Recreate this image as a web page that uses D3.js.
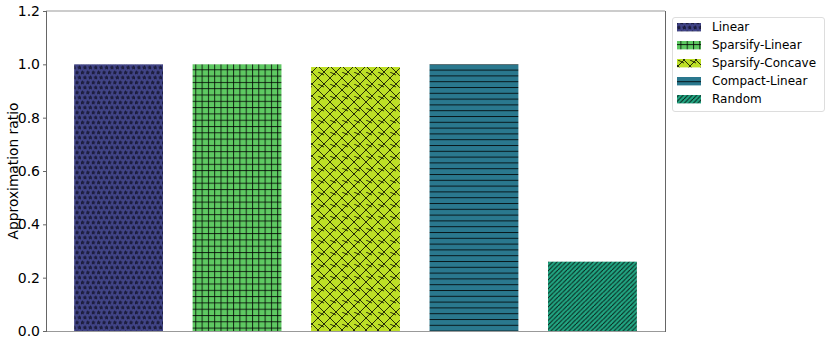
<!DOCTYPE html>
<html><head><meta charset="utf-8">
<script src="https://cdn.jsdelivr.net/npm/d3@7"></script>
<style>body{margin:0;background:#fff}svg{display:block;font-family:"DejaVu Sans",sans-serif}</style>
</head><body><svg id="c" width="830" height="346"></svg>
<script>
const categories = ["Linear","Sparsify-Linear","Sparsify-Concave","Compact-Linear","Random"];
const values = [1.0, 1.0, 0.99, 1.0, 0.26];
const colors = ["#414487","#5ec962","#bddf26","#2a788e","#22a884"];
const hatches = ["star","plus","cross","hline","diag"];
const yTicks = [0, 0.2, 0.4, 0.6, 0.8, 1.0, 1.2];
const yLabel = "Approximation ratio";

const svg = d3.select("#c");
const L = 46, R = 665, T = 11, B = 331;
const x = d3.scaleLinear().domain([-0.6125, 4.6125]).range([L, R]);
const y = d3.scaleLinear().domain([0, 1.2]).range([B, T]);
const defs = svg.append("defs");
const hc = "rgba(0,0,0,0.8)";

function makePattern(id, kind, color) {
  let w, h;
  if (kind === "star") { w = 5.4; h = 10; }
  else if (kind === "plus") { w = 6.3; h = 6.3; }
  else if (kind === "cross") { w = 12; h = 12; }
  else if (kind === "hline") { w = 10; h = 5.8; }
  else { w = 4.5; h = 4.5; }
  const p = defs.append("pattern").attr("id", id).attr("patternUnits", "userSpaceOnUse")
    .attr("width", w).attr("height", h);
  p.append("rect").attr("width", w).attr("height", h).attr("fill", color);
  if (kind === "star") {
    const star = (cx, cy, r) => {
      const pts = [];
      for (let k = 0; k < 10; k++) {
        const a = -Math.PI / 2 + k * Math.PI / 5;
        const rr = k % 2 ? r * 0.45 : r;
        pts.push([cx + rr * Math.cos(a), cy + rr * Math.sin(a)]);
      }
      p.append("polygon").attr("points", pts.map(d => d.join(",")).join(" "))
        .attr("fill", "rgba(20,20,50,0.75)").attr("stroke", "rgba(0,0,0,0.6)").attr("stroke-width", 0.5);
    };
    star(1.35, 2.6, 2.0); star(4.05, 7.6, 2.0);
  } else if (kind === "plus") {
    p.append("line").attr("x1", 0.5).attr("x2", 0.5).attr("y1", 0).attr("y2", h).attr("stroke", hc).attr("stroke-width", 1);
    p.append("line").attr("y1", 0.5).attr("y2", 0.5).attr("x1", 0).attr("x2", w).attr("stroke", hc).attr("stroke-width", 1);
  } else if (kind === "cross") {
    p.append("path").attr("d", `M0,0L${w},${h}M0,${h}L${w},0M${-w/2},${h/2}L0,${h}M${w/2},0L${w+w/2},${h/2}`).attr("stroke", hc).attr("stroke-width", 1).attr("fill", "none");
    p.append("path").attr("d", `M${-w/2},${h/2}L0,0M${w},${h}L${w+w/2},${h/2}`).attr("stroke", hc).attr("stroke-width", 1).attr("fill","none");
  } else if (kind === "hline") {
    p.append("line").attr("y1", 0.5).attr("y2", 0.5).attr("x1", 0).attr("x2", w).attr("stroke", hc).attr("stroke-width", 1);
  } else {
    p.append("path").attr("d", `M0,${h}L${w},0M${-w},${h}L0,0M${w},${h}L${2*w},0`).attr("stroke", hc).attr("stroke-width", 1.1);
  }
}
categories.forEach((c, i) => makePattern("h" + i, hatches[i], colors[i]));

// bars
svg.append("g").selectAll("rect").data(values).join("rect")
  .attr("x", (d, i) => x(i - 0.375)).attr("width", (d, i) => x(i + 0.375) - x(i - 0.375))
  .attr("y", d => y(d)).attr("height", d => y(0) - y(d))
  .attr("fill", (d, i) => `url(#h${i})`);

// spines
svg.append("line").attr("x1", L).attr("x2", R).attr("y1", T).attr("y2", T).attr("stroke", "#999").attr("stroke-width", 1.2);
svg.append("line").attr("x1", L).attr("x2", R).attr("y1", B + 0.5).attr("y2", B + 0.5).attr("stroke", "#999").attr("stroke-width", 1.2);
svg.append("line").attr("x1", R + 0.5).attr("x2", R + 0.5).attr("y1", T).attr("y2", B + 1).attr("stroke", "#666").attr("stroke-width", 1);

// y axis
const ya = svg.append("g").attr("transform", `translate(${L + 0.5},0)`)
  .call(d3.axisLeft(y).tickValues(yTicks).tickFormat(d3.format(".1f")).tickSize(3.5).tickPadding(3));
ya.select(".domain").attr("stroke", "#666").attr("d", `M0,${T}V${B + 1}`);
ya.selectAll(".tick line").attr("stroke", "#666");
ya.selectAll(".tick text").attr("font-size", 14).attr("fill", "#000").attr("font-family", "DejaVu Sans");

svg.append("text").attr("transform", `translate(17.5,${(T + B) / 2}) rotate(-90)`)
  .attr("text-anchor", "middle").attr("font-size", 13.8).text(yLabel);

// legend
const lg = svg.append("g");
lg.append("rect").attr("x", 672.5).attr("y", 17.5).attr("width", 152).attr("height", 94)
  .attr("rx", 2.5).attr("fill", "#fff").attr("stroke", "#ddd");
categories.forEach((c, i) => {
  const yy = 27 + i * 18;
  lg.append("rect").attr("x", 677).attr("y", yy - 4).attr("width", 24).attr("height", 8.4).attr("fill", `url(#h${i})`);
  lg.append("text").attr("x", 712).attr("y", yy + 4.3).attr("font-size", 12).text(c);
});
</script></body></html>
